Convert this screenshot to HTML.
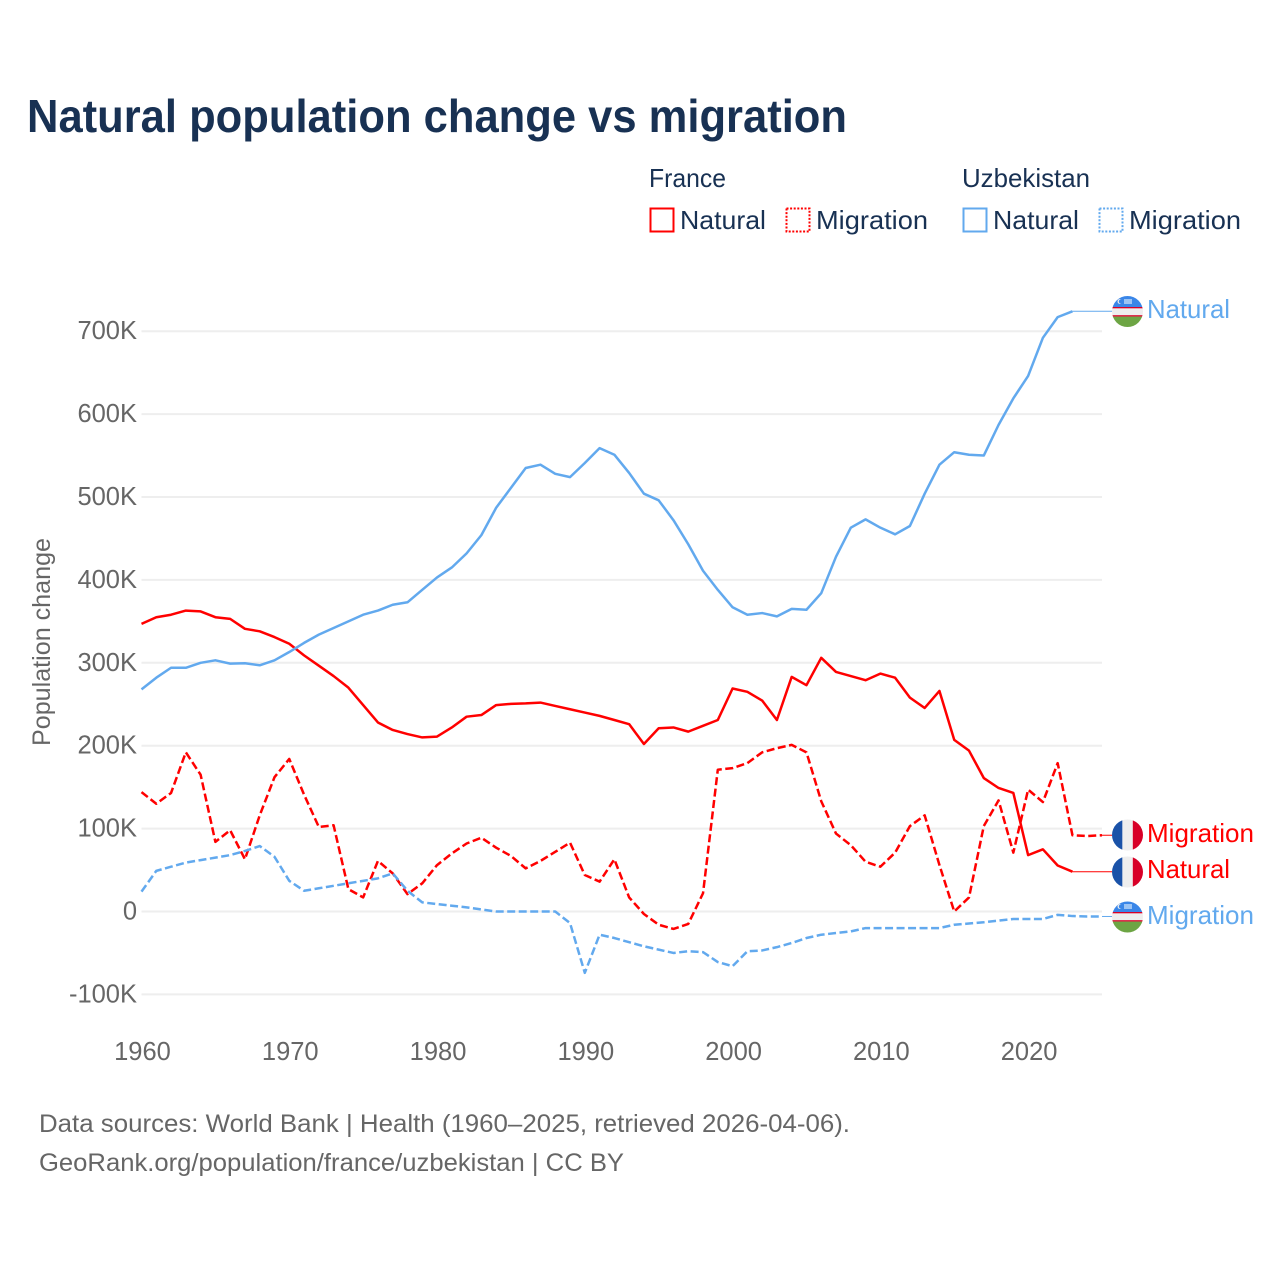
<!DOCTYPE html>
<html lang="en">
<head>
<meta charset="utf-8">
<title>Natural population change vs migration</title>
<style>
html,body{margin:0;padding:0;background:#fff;}
svg{display:block;}
text{font-family:"Liberation Sans",sans-serif;}
</style>
</head>
<body>
<svg id="chart" xmlns="http://www.w3.org/2000/svg" width="1280" height="1280" viewBox="0 0 1280 1280">
  <defs>
    <clipPath id="flag-clip-a"><circle cx="1127.5" cy="311.5" r="15.5"/></clipPath>
    <clipPath id="flag-clip-b"><circle cx="1127.5" cy="835" r="15.5"/></clipPath>
    <clipPath id="flag-clip-c"><circle cx="1127.5" cy="872" r="15.5"/></clipPath>
    <clipPath id="flag-clip-d"><circle cx="1127.5" cy="917" r="15.5"/></clipPath>
  </defs>
  <rect x="0" y="0" width="1280" height="1280" fill="#ffffff"/>
  <text x="27" y="132" font-size="46" font-weight="700" fill="#183153" textLength="820" lengthAdjust="spacingAndGlyphs">Natural population change vs migration</text>

  <g font-size="26" fill="#183153">
    <text x="649" y="187" textLength="77" lengthAdjust="spacingAndGlyphs">France</text>
    <text x="962" y="187" textLength="128" lengthAdjust="spacingAndGlyphs">Uzbekistan</text>
    <g>
      <rect x="650.5" y="208.5" width="23" height="23" fill="none" stroke="#ff0000" stroke-width="2"/>
      <text x="680" y="229" textLength="86" lengthAdjust="spacingAndGlyphs">Natural</text>
    </g>
    <g>
      <rect x="786.5" y="208.5" width="23" height="23" fill="none" stroke="#ff0000" stroke-width="2" stroke-dasharray="2 1.6"/>
      <text x="816" y="229" textLength="112" lengthAdjust="spacingAndGlyphs">Migration</text>
    </g>
    <g>
      <rect x="963.5" y="208.5" width="23" height="23" fill="none" stroke="#62a9ee" stroke-width="2"/>
      <text x="993" y="229" textLength="86" lengthAdjust="spacingAndGlyphs">Natural</text>
    </g>
    <g>
      <rect x="1099.5" y="208.5" width="23" height="23" fill="none" stroke="#62a9ee" stroke-width="2" stroke-dasharray="2 1.6"/>
      <text x="1129" y="229" textLength="112" lengthAdjust="spacingAndGlyphs">Migration</text>
    </g>
  </g>

  <g id="grid"></g>
  <g id="y-ticks" font-size="25.5" fill="#666666"></g>
  <g id="x-ticks" font-size="25.5" fill="#666666"></g>
  <text transform="translate(50 746) rotate(-90)" font-size="25" fill="#666666" textLength="208" lengthAdjust="spacingAndGlyphs">Population change</text>
  <g id="connectors"></g>
  <g id="series"></g>

  <g clip-path="url(#flag-clip-a)">
    <rect x="1112" y="296" width="31" height="11" fill="#3a86e8"/>
    <rect x="1112" y="307" width="31" height="1.4" fill="#d80027"/>
    <rect x="1112" y="308.4" width="31" height="6.8" fill="#eeeeee"/>
    <rect x="1112" y="315.2" width="31" height="1.4" fill="#d80027"/>
    <rect x="1112" y="316.6" width="31" height="11" fill="#6da544"/>
    <circle cx="1120" cy="301.5" r="2.5" fill="#eeeeee"/><circle cx="1121" cy="301.5" r="2.2" fill="#3a86e8"/>
    <rect x="1124" y="299" width="8" height="5" fill="#9cc4f4"/>
  </g>
  <g clip-path="url(#flag-clip-b)">
    <rect x="1112" y="819" width="10.4" height="32" fill="#1a52a8"/>
    <rect x="1122.4" y="819" width="10.4" height="32" fill="#eeeeee"/>
    <rect x="1132.8" y="819" width="10.4" height="32" fill="#d80027"/>
  </g>
  <g clip-path="url(#flag-clip-c)">
    <rect x="1112" y="856" width="10.4" height="32" fill="#1a52a8"/>
    <rect x="1122.4" y="856" width="10.4" height="32" fill="#eeeeee"/>
    <rect x="1132.8" y="856" width="10.4" height="32" fill="#d80027"/>
  </g>
  <g clip-path="url(#flag-clip-d)">
    <rect x="1112" y="901" width="31" height="11" fill="#3a86e8"/>
    <rect x="1112" y="912" width="31" height="1.4" fill="#d80027"/>
    <rect x="1112" y="913.4" width="31" height="6.8" fill="#eeeeee"/>
    <rect x="1112" y="920.2" width="31" height="1.4" fill="#d80027"/>
    <rect x="1112" y="921.6" width="31" height="11" fill="#6da544"/>
    <circle cx="1120" cy="906.5" r="2.5" fill="#eeeeee"/><circle cx="1121" cy="906.5" r="2.2" fill="#3a86e8"/>
    <rect x="1124" y="904" width="8" height="5" fill="#9cc4f4"/>
  </g>

  <g font-size="26">
    <text x="1147" y="318" fill="#62a9ee" textLength="83" lengthAdjust="spacingAndGlyphs">Natural</text>
    <text x="1147" y="842" fill="#ff0000" textLength="107" lengthAdjust="spacingAndGlyphs">Migration</text>
    <text x="1147" y="878" fill="#ff0000" textLength="83" lengthAdjust="spacingAndGlyphs">Natural</text>
    <text x="1147" y="924" fill="#62a9ee" textLength="107" lengthAdjust="spacingAndGlyphs">Migration</text>
  </g>

  <g font-size="25" fill="#666666">
    <text x="39" y="1132" textLength="811" lengthAdjust="spacingAndGlyphs">Data sources: World Bank | Health (1960–2025, retrieved 2026-04-06).</text>
    <text x="39" y="1171" textLength="585" lengthAdjust="spacingAndGlyphs">GeoRank.org/population/france/uzbekistan | CC BY</text>
  </g>
</svg>
<script>
const years = [1960,1961,1962,1963,1964,1965,1966,1967,1968,1969,1970,1971,1972,1973,1974,1975,1976,1977,1978,1979,1980,1981,1982,1983,1984,1985,1986,1987,1988,1989,1990,1991,1992,1993,1994,1995,1996,1997,1998,1999,2000,2001,2002,2003,2004,2005,2006,2007,2008,2009,2010,2011,2012,2013,2014,2015,2016,2017,2018,2019,2020,2021,2022,2023,2024,2025];
const franceNatural = [347,355,358,363,362,355,353,341,338,331,323,309,296.5,284,270,249,228,219,214,210,211,222,235,237,249,250.5,251,252,248,244,240,236,231,226,202,221,222,217,224,231,269,265,254.5,231,283,273,306,289,284,279,287,282,258,245.5,266,207,194,161,149,143,68,75,55.5,48];
const franceMigration = [144,130,143,192,165,84,98,63,116,162,184,141,102,104,27,17,61,46,21,34,56,70,82,89,77,67,52,61,72,83,44,36,63,17,-3,-16,-21,-15,22,171,173,179,192,197,201,192,133,94,80,60,54,71,103,116,56,0,17,103,134,71,147,132,179,92,91,92];
const uzbekNatural = [268,282,294,294,300,303,299,299.5,297,303,313,324,334,342,350,358,363,370,373,388,403,415,432,454,487,511,535,539,528,524,541,559,551,529,504,496,472,443,411,388,367,358,360,356,365,364,384,428,463,473,463,455,465,504,539,554,551,550,587,619,646,692,717,724];
const uzbekMigration = [24,49,54,59,62,65,68,73,79,66,37,25,28,31,34,37,40,46,25,11,9,7,5,2.5,0,0,0,0,0,-14,-74,-28,-32,-37,-42,-46,-50,-48,-49,-61,-66,-48,-47,-43,-38,-32,-28,-26,-24,-20,-20,-20,-20,-20,-20,-16,-14.5,-13,-11,-9,-9,-9,-4,-5.5,-6,-6];
const yTickValues = [-100,0,100,200,300,400,500,600,700];
const yTickLabels = ['-100K','0','100K','200K','300K','400K','500K','600K','700K'];
const xTickValues = [1960,1970,1980,1990,2000,2010,2020];
const xTickLabels = ['1960','1970','1980','1990','2000','2010','2020'];

const NS = 'http://www.w3.org/2000/svg';
const xScale = function (year) { return 141.5 + (year - 1960) * (1102 - 141.5) / 65; };
const yScale = function (value) { return 911.5 - value * 0.829; };

const grid = document.getElementById('grid');
const yTicks = document.getElementById('y-ticks');
const xTicks = document.getElementById('x-ticks');
const seriesGroup = document.getElementById('series');
const connectors = document.getElementById('connectors');

yTickValues.forEach(function (value, i) {
  const line = document.createElementNS(NS, 'line');
  
  
  line.setAttribute('x1', xScale(1960));
  line.setAttribute('x2', xScale(2025));
  line.setAttribute('y1', yScale(value));
  line.setAttribute('y2', yScale(value));
  line.setAttribute('stroke', '#eeeeee');
  line.setAttribute('stroke-width', '2');
  grid.appendChild(line);
  const label = document.createElementNS(NS, 'text');
  
  
  label.setAttribute('x', 137);
  label.setAttribute('y', yScale(value) + 8);
  label.setAttribute('text-anchor', 'end');
  label.textContent = yTickLabels[i];
  yTicks.appendChild(label);
});

xTickValues.forEach(function (year, i) {
  const label = document.createElementNS(NS, 'text');
  
  
  label.setAttribute('x', xScale(year) + 1);
  label.setAttribute('y', 1060);
  label.setAttribute('text-anchor', 'middle');
  label.textContent = xTickLabels[i];
  xTicks.appendChild(label);
});

function drawSeries(values, color, dashed, name) {
  const path = document.createElementNS(NS, 'path');
  const d = values.map(function (v, i) {
    return (i ? 'L' : 'M') + xScale(years[i]).toFixed(2) + ' ' + yScale(v).toFixed(2);
  }).join(' ');
  
  
  path.setAttribute('d', d);
  path.setAttribute('fill', 'none');
  path.setAttribute('stroke', color);
  path.setAttribute('stroke-width', '2.5');
  path.setAttribute('stroke-linejoin', 'round');
  if (dashed) path.setAttribute('stroke-dasharray', '8 3.5');
  seriesGroup.appendChild(path);

  const last = values.length - 1;
  const connector = document.createElementNS(NS, 'line');
  
  
  connector.setAttribute('x1', xScale(years[last]));
  connector.setAttribute('x2', 1112);
  connector.setAttribute('y1', yScale(values[last]));
  connector.setAttribute('y2', yScale(values[last]));
  connector.setAttribute('stroke', color);
  connector.setAttribute('stroke-width', '1');
  connectors.appendChild(connector);
}

drawSeries(franceNatural, '#ff0000', false, 'line-france-natural');
drawSeries(franceMigration, '#ff0000', true, 'line-france-migration');
drawSeries(uzbekNatural, '#62a9ee', false, 'line-uzbekistan-natural');
drawSeries(uzbekMigration, '#62a9ee', true, 'line-uzbekistan-migration');
</script>
</body>
</html>
